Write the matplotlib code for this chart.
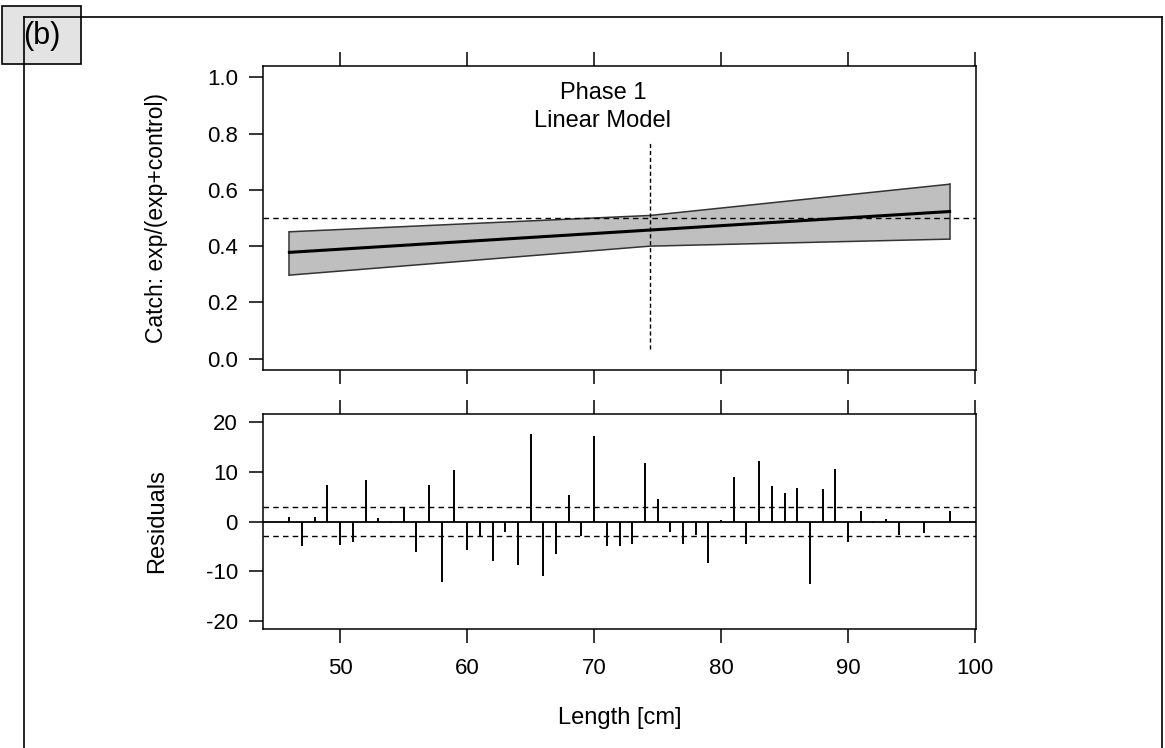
import matplotlib
matplotlib.use("Agg")
import matplotlib.pyplot as plt
from matplotlib.patches import Rectangle
from matplotlib.lines import Line2D

plt.rcParams['font.family'] = ['Liberation Sans', 'DejaVu Sans']
plt.rcParams['axes.unicode_minus'] = False

# Fitted catch proportion (linear model) and its confidence band
fit_length = [46, 98]
fit_prop = [0.378, 0.523]
band_length = [46, 74.4, 98]
band_upper = [0.451, 0.509, 0.620]
band_lower = [0.297, 0.400, 0.425]
split_length = 74.4

# Residuals per length class
resid_length = [46, 47, 48, 49, 50, 51, 52, 53, 54, 55, 56, 57, 58, 59, 60,
                61, 62, 63, 64, 65, 66, 67, 68, 69, 70, 71, 72, 73, 74, 75,
                76, 77, 78, 79, 80, 81, 82, 83, 84, 85, 86, 87, 88, 89, 90,
                91, 92, 93, 94, 96, 98]
resid_value = [1.0, -5.0, 1.0, 7.4, -4.8, -4.2, 8.4, 0.8, -0.3, 2.95, -6.2, 7.4,
               -12.1, 10.4, -5.7, -3.2, -8.0, -2.1, -8.8, 17.5, -11.0, -6.6, 5.4,
               -2.9, 17.1, -5.0, -5.0, -4.5, 11.8, 4.6, -2.1, -4.5, -2.75, -8.3,
               0.3, 8.9, -4.5, 12.2, 7.1, 5.7, 6.8, -12.6, 6.6, 10.6, -4.2, 2.1,
               -0.3, 0.5, -2.75, -2.4, 2.1]
resid_band = 2.9

x_ticks = [50, 60, 70, 80, 90, 100]
prop_ticks = [0.0, 0.2, 0.4, 0.6, 0.8, 1.0]
resid_ticks = [-20, -10, 0, 10, 20]

W, H = 1165, 748
fig = plt.figure(figsize=(W / 100, H / 100), dpi=100)

# Outer frame and panel tag
fig.add_artist(Line2D([24 / W, 24 / W], [0, 1 - 17 / H], color='black', lw=1.2))
fig.add_artist(Line2D([24 / W, 1162 / W], [1 - 17 / H, 1 - 17 / H], color='black', lw=1.2))
fig.add_artist(Line2D([1162 / W, 1162 / W], [0, 1 - 17 / H], color='black', lw=1.2))
fig.add_artist(Rectangle((2 / W, 1 - 64 / H), 79 / W, 58 / H, transform=fig.transFigure,
                         facecolor='#e3e3e3', edgecolor='black', lw=1.2))
fig.text(41.5 / W, 1 - 36 / H, '(b)', ha='center', va='center', fontsize=22)

left, right = 263 / W, 976 / W
ax1 = fig.add_axes([left, 1 - 370 / H, right - left, (370 - 66) / H])
ax2 = fig.add_axes([left, 1 - 629 / H, right - left, (629 - 414) / H])

xlim = (43.92, 100.08)
for ax in (ax1, ax2):
    ax.set_xlim(*xlim)
    ax.set_xticks(x_ticks)
    for s in ax.spines.values():
        s.set_linewidth(1.1)
    ax.tick_params(axis='both', direction='out', length=10, width=1.1,
                   labelsize=16, pad=8, top=True, bottom=True)

# Top panel
ax1.set_ylim(-0.04, 1.04)
ax1.set_yticks(prop_ticks)
ax1.set_yticklabels([f'{v:.1f}' for v in prop_ticks])
ax1.tick_params(axis='x', labelbottom=False)
ax1.fill_between(band_length, band_lower, band_upper, facecolor='#bfbfbf',
                 edgecolor='none', zorder=1)
ax1.plot(band_length, band_upper, color='#333333', lw=1.1, zorder=2)
ax1.plot(band_length, band_lower, color='#333333', lw=1.1, zorder=2)
ax1.plot([band_length[0]] * 2, [band_lower[0], band_upper[0]], color='#333333', lw=1.1, zorder=2)
ax1.plot([band_length[-1]] * 2, [band_lower[-1], band_upper[-1]], color='#333333', lw=1.1, zorder=2)
ax1.plot(fit_length, fit_prop, color='black', lw=2.2, zorder=3)
ax1.axhline(0.5, color='black', lw=1.0, ls=(0, (4, 3)), zorder=4)
ax1.plot([split_length, split_length], [0.033, 0.768], color='black', lw=1.0,
         ls=(0, (3, 2)), zorder=4)
ax1.text(70.7, 0.945, 'Phase 1', ha='center', va='center', fontsize=17)
ax1.text(70.7, 0.845, 'Linear Model', ha='center', va='center', fontsize=17)
ax1.set_ylabel('Catch: exp/(exp+control)', fontsize=16.5)
ax1.yaxis.set_label_coords((168 - 263) / (976 - 263), 0.5)

# Bottom panel
ax2.set_ylim(-21.6, 21.6)
ax2.set_yticks(resid_ticks)
ax2.vlines(resid_length, 0, resid_value, color='black', lw=1.4)
ax2.axhline(0, color='black', lw=1.3)
ax2.axhline(resid_band, color='black', lw=1.0, ls=(0, (4, 3)))
ax2.axhline(-resid_band, color='black', lw=1.0, ls=(0, (4, 3)))
ax2.tick_params(axis='x', pad=11)
ax2.set_xlabel('Length [cm]', fontsize=17, labelpad=20)
ax2.set_ylabel('Residuals', fontsize=17)
ax2.yaxis.set_label_coords((168 - 263) / (976 - 263), 0.5)

fig.savefig('out.png', dpi=100)
